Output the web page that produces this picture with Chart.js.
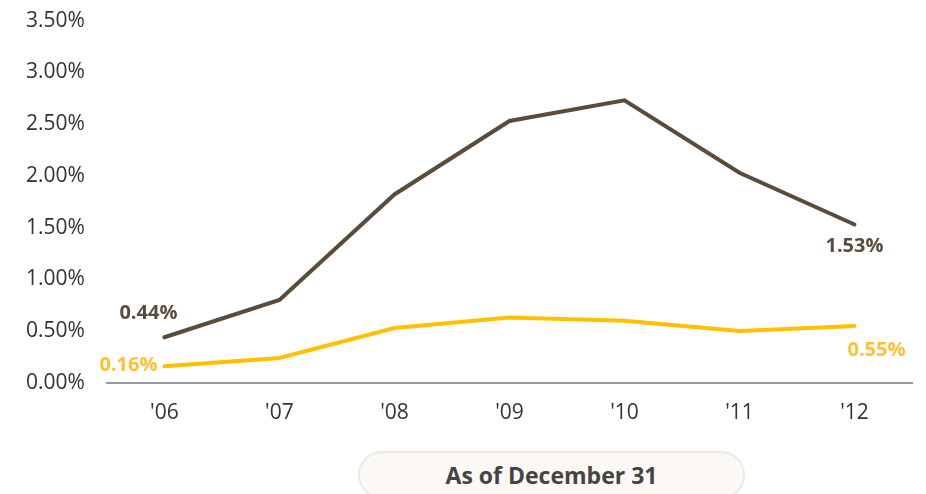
<!DOCTYPE html>
<html>
<head>
<meta charset="utf-8">
<script src="https://cdn.jsdelivr.net/npm/chart.js@4.4.0/dist/chart.umd.min.js"></script>
<style>
    body { margin: 0; background: #fff; font-family: "Open Sans", sans-serif; overflow: hidden; }
    #wrap { position: absolute; left: 0; top: -14px; width: 926px; height: 458px; }
    .badge {
        position: absolute; left: 358px; top: 451px; width: 387px; height: 48px;
        background: #fcf8f3; border: 2px solid #e8ebe6; border-radius: 24px;
        box-sizing: border-box; text-align: center; line-height: 44px;
        font-weight: 700; font-size: 23px; color: #444;
    }
</style>
</head>
<body>
<div id="wrap"><canvas id="grafico"></canvas></div>
<div class="badge">As of December 31</div>
<script>
// Anos e séries
const anos = ["'06", "'07", "'08", "'09", "'10", "'11", "'12"];
const serieMarrom = [0.44, 0.80, 1.82, 2.53, 2.73, 2.03, 1.53];
const serieAmarela = [0.16, 0.24, 0.53, 0.63, 0.60, 0.50, 0.55];
const ticksY = [0, 0.5, 1, 1.5, 2, 2.5, 3, 3.5];

const corMarrom = '#5b4b3a';
const corAmarela = '#ffc000';
const corRotuloAmarelo = '#ffc133';

// Rótulos no primeiro e último ponto de cada série
const rotulosPontas = {
    id: 'rotulosPontas',
    afterDatasetsDraw(chart) {
        const ctx = chart.ctx;
        ctx.save();
        ctx.font = 'bold 20px "Open Sans"';
        ctx.textBaseline = 'middle';
        const fmt = v => v.toFixed(2) + '%';

        const m = chart.getDatasetMeta(0).data;
        const a = chart.getDatasetMeta(1).data;
        const ultimo = anos.length - 1;

        ctx.fillStyle = corMarrom;
        ctx.textAlign = 'right';
        ctx.fillText(fmt(serieMarrom[0]), m[0].x + 13, m[0].y - 24);
        ctx.textAlign = 'center';
        ctx.fillText(fmt(serieMarrom[ultimo]), m[ultimo].x, m[ultimo].y + 22);

        ctx.fillStyle = corRotuloAmarelo;
        ctx.textAlign = 'right';
        ctx.fillText(fmt(serieAmarela[0]), a[0].x - 7, a[0].y - 1);
        ctx.textAlign = 'center';
        ctx.fillText(fmt(serieAmarela[ultimo]), a[ultimo].x + 22, a[ultimo].y + 24);
        ctx.restore();
    }
};

new Chart(document.getElementById('grafico'), {
    type: 'line',
    data: {
        labels: anos,
        datasets: [
            {
                data: serieMarrom,
                borderColor: corMarrom,
                borderWidth: 4,
                pointRadius: 0,
                borderCapStyle: 'round',
                tension: 0
            },
            {
                data: serieAmarela,
                borderColor: corAmarela,
                borderWidth: 4,
                pointRadius: 0,
                borderCapStyle: 'round',
                tension: 0
            }
        ]
    },
    options: {
        responsive: true,
        maintainAspectRatio: false,
        animation: false,
        layout: { padding: { top: 4, left: 4, right: 14, bottom: 0 } },
        plugins: {
            legend: { display: false },
            tooltip: { enabled: false }
        },
        scales: {
            x: {
                offset: true,
                grid: { display: false, drawTicks: false },
                border: { color: '#999', width: 2 },
                ticks: {
                    color: '#333',
                    padding: 18,
                    font: { family: 'Open Sans', size: 21 }
                }
            },
            y: {
                min: 0,
                max: 3.5,
                grid: { display: false, drawTicks: false },
                border: { display: false },
                afterBuildTicks(axis) {
                    axis.ticks = ticksY.map(v => ({ value: v }));
                },
                ticks: {
                    color: '#333',
                    padding: 22,
                    font: { family: 'Open Sans', size: 21 },
                    callback: v => v.toFixed(2) + '%'
                }
            }
        }
    },
    plugins: [rotulosPontas]
});
</script>
</body>
</html>
